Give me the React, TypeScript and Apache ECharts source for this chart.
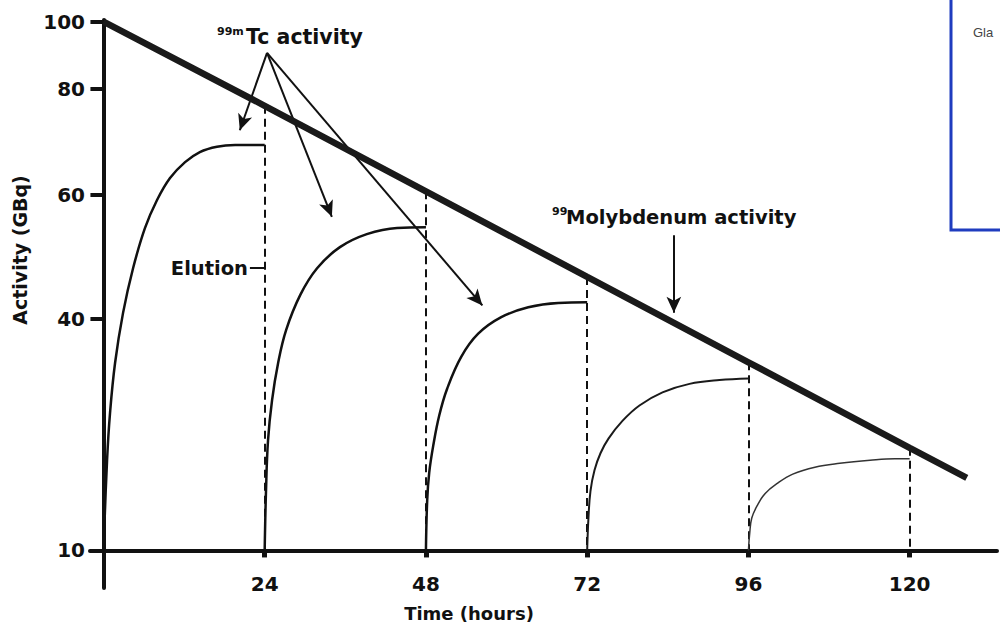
import React, { useEffect, useRef } from "react";
import * as echarts from "echarts";

// Activity axis: labelled ticks (GBq) and where each sits on the schematic scale (0..100)
const TICK_GBQ = [10, 40, 60, 80, 100];
const TICK_POS = [0, 43.75, 67.2, 87.3, 100];

// Elution times (hours)
const ELUTION_HOURS = [24, 48, 72, 96, 120];

// 99Mo parent activity
const MO_HOURS = [0, 24, 48, 72, 96, 120, 128.5];
const MO_GBQ = [100, 76.8, 60.7, 46.8, 34.4, 23.3, 19.4];

// 99mTc in-growth after each elution
const TC1_HOURS = [0, 0.54, 0.98, 1.73, 2.92, 4.41, 6.19, 7.98, 9.91, 12.15, 14.35, 16.9, 19.6, 24];
const TC1_GBQ = [10, 21.7, 27.8, 34.3, 41.0, 48.2, 54.7, 59.2, 63.2, 66.2, 68.1, 69.1, 69.4, 69.4];
const TC2_HOURS = [24, 24.2, 24.5, 25.1, 26.0, 27.2, 29.3, 31.8, 35.2, 39.2, 43.7, 48];
const TC2_GBQ = [10, 17.8, 24.3, 29.5, 34.3, 38.6, 43.9, 48.2, 51.6, 53.7, 54.7, 54.8];
const TC3_HOURS = [48, 48.19, 48.49, 49.09, 49.98, 51.17, 53.25, 55.78, 59.21, 63.23, 67.69, 72];
const TC3_GBQ = [10, 16.5, 20.1, 23.6, 27.5, 31.0, 35.1, 38.1, 40.3, 41.9, 42.6, 42.7];
const TC4_HOURS = [72, 72.19, 72.49, 73.09, 73.98, 75.17, 77.25, 79.78, 83.21, 87.23, 91.69, 96];
const TC4_GBQ = [10, 14.2, 17.7, 20.4, 22.6, 24.5, 26.8, 28.8, 30.5, 31.6, 32.1, 32.3];
const TC5_HOURS = [96, 96.2, 96.5, 97.3, 98.5, 100.3, 102.6, 105.9, 109.6, 114.1, 117.8, 120];
const TC5_GBQ = [10, 12.3, 14.2, 15.8, 17.4, 18.7, 19.9, 20.8, 21.3, 21.7, 21.9, 21.9];

// Callout arrows (hours, GBq)
const TC_CALLOUT_FROM = [24.35, 90.7];
const TC_CALLOUT_TO = [
  [20.3, 72.2],
  [34.0, 56.5],
  [56.4, 42.2],
];
const MO_CALLOUT = [[84.9, 53.5], [84.9, 41.0]];
const ELUTION_TICK = [[21.8, 48.2], [24, 48.2]];

const FONT = '"DejaVu Sans", "Liberation Sans", Arial, sans-serif';
const INK = "#111";

// piecewise-linear placement of an activity on the schematic scale
function toPos(g: number): number {
  for (let i = 0; i < TICK_GBQ.length - 1; i++) {
    const a = TICK_GBQ[i];
    const b = TICK_GBQ[i + 1];
    if (g <= b || i === TICK_GBQ.length - 2) {
      return TICK_POS[i] + ((g - a) / (b - a)) * (TICK_POS[i + 1] - TICK_POS[i]);
    }
  }
  return 0;
}

function labelFor(pos: number): string {
  let best = 0;
  for (let i = 1; i < TICK_POS.length; i++) {
    if (Math.abs(TICK_POS[i] - pos) < Math.abs(TICK_POS[best] - pos)) best = i;
  }
  return String(TICK_GBQ[best]);
}

const pts = (hs: number[], gs: number[]) => hs.map((h, i) => [h, toPos(gs[i])]);
const pt = (p: number[]) => [p[0], toPos(p[1])];

function tcSeries(name: string, hs: number[], gs: number[], width: number, color: string, extra: any = {}) {
  return {
    name,
    type: "line",
    data: pts(hs, gs),
    smooth: 0.4,
    showSymbol: false,
    symbol: "none",
    silent: true,
    lineStyle: { color, width, join: "round" },
    z: 3,
    ...extra,
  };
}

export default function App() {
  const ref = useRef<HTMLDivElement>(null);

  useEffect(() => {
    if (!ref.current) return;
    const chart = echarts.init(ref.current, null, { renderer: "svg" });

    const dashed = ELUTION_HOURS.map((h) => {
      const g = MO_GBQ[MO_HOURS.indexOf(h)];
      return [{ coord: [h, toPos(g)] }, { coord: [h, 0] }];
    });

    const arrowHead = { symbol: "arrow", symbolSize: [11, 16] };
    const arrows: any[] = TC_CALLOUT_TO.map((to) => [
      { coord: pt(TC_CALLOUT_FROM), symbol: "none" },
      { coord: pt(to), ...arrowHead },
    ]);
    arrows.push([
      { coord: pt(MO_CALLOUT[0]), symbol: "none" },
      { coord: pt(MO_CALLOUT[1]), ...arrowHead },
    ]);
    arrows.push([
      { coord: pt(ELUTION_TICK[0]), symbol: "none" },
      { coord: pt(ELUTION_TICK[1]), symbol: "none" },
    ]);

    chart.setOption({
      animation: false,
      backgroundColor: "#ffffff",
      grid: { left: 90, right: 3, top: 20, bottom: 46 },
      xAxis: {
        type: "value",
        min: -2,
        max: 133,
        axisLine: { show: true, onZero: true, lineStyle: { color: INK, width: 4 } },
        axisTick: { show: true, customValues: ELUTION_HOURS, length: 7, lineStyle: { color: INK, width: 5 } },
        axisLabel: {
          show: true,
          customValues: ELUTION_HOURS,
          margin: -14,
          color: INK,
          fontFamily: FONT,
          fontWeight: "bold",
          fontSize: 20,
        },
        splitLine: { show: false },
      },
      yAxis: {
        type: "value",
        min: -7.1,
        max: 100.3,
        axisLine: { show: true, onZero: true, lineStyle: { color: INK, width: 4 } },
        axisTick: { show: true, customValues: TICK_POS, length: 13, lineStyle: { color: INK, width: 4 } },
        axisLabel: {
          show: true,
          customValues: TICK_POS,
          formatter: (v: number) => labelFor(v),
          margin: 5,
          color: INK,
          fontFamily: FONT,
          fontWeight: "bold",
          fontSize: 20,
        },
        splitLine: { show: false },
      },
      series: [
        {
          name: "99Mo",
          type: "line",
          data: pts(MO_HOURS, MO_GBQ),
          showSymbol: false,
          symbol: "none",
          silent: true,
          lineStyle: { color: "#1a1a1a", width: 6.5, cap: "butt" },
          z: 5,
          markLine: {
            silent: true,
            symbol: "none",
            label: { show: false },
            lineStyle: { color: INK, width: 2, type: [8, 5] },
            data: dashed,
            z: 2,
          },
        },
        tcSeries("99mTc 1", TC1_HOURS, TC1_GBQ, 2.5, INK, {
          markLine: {
            silent: true,
            label: { show: false },
            lineStyle: { color: INK, width: 2, type: "solid" },
            data: arrows,
          },
        }),
        tcSeries("99mTc 2", TC2_HOURS, TC2_GBQ, 2.5, INK),
        tcSeries("99mTc 3", TC3_HOURS, TC3_GBQ, 2.5, INK),
        tcSeries("99mTc 4", TC4_HOURS, TC4_GBQ, 2, "#1a1a1a"),
        tcSeries("99mTc 5", TC5_HOURS, TC5_GBQ, 1.5, "#333"),
      ],
      graphic: [
        {
          type: "text",
          x: 20,
          y: 250,
          rotation: Math.PI / 2,
          style: { text: "Activity (GBq)", font: `bold 19px ${FONT}`, fill: INK, align: "center", verticalAlign: "middle" },
        },
        {
          type: "text",
          x: 469,
          y: 613,
          style: { text: "Time (hours)", font: `bold 18px ${FONT}`, fill: INK, align: "center", verticalAlign: "middle" },
        },
        {
          type: "text",
          x: 217,
          y: 31,
          style: { text: "99m", font: `bold 11px ${FONT}`, fill: INK, align: "left", verticalAlign: "middle" },
        },
        {
          type: "text",
          x: 246,
          y: 37,
          style: { text: "Tc activity", font: `bold 20.5px ${FONT}`, fill: INK, align: "left", verticalAlign: "middle" },
        },
        {
          type: "text",
          x: 552,
          y: 211,
          style: { text: "99", font: `bold 11px ${FONT}`, fill: INK, align: "left", verticalAlign: "middle" },
        },
        {
          type: "text",
          x: 566,
          y: 217,
          style: { text: "Molybdenum activity", font: `bold 19.5px ${FONT}`, fill: INK, align: "left", verticalAlign: "middle" },
        },
        {
          type: "text",
          x: 248,
          y: 268,
          style: { text: "Elution", font: `bold 19.5px ${FONT}`, fill: INK, align: "right", verticalAlign: "middle" },
        },
        {
          type: "rect",
          shape: { x: 951, y: -4, width: 60, height: 234 },
          style: { fill: "#ffffff", stroke: "#1f3cbf", lineWidth: 3 },
          z: 10,
        },
        {
          type: "text",
          x: 973,
          y: 32,
          style: { text: "Gla", font: '13px "Liberation Sans", Arial, sans-serif', fill: "#444", align: "left", verticalAlign: "middle" },
          z: 11,
        },
      ],
    });

    return () => chart.dispose();
  }, []);

  return (
    <div
      ref={ref}
      style={{ position: "fixed", left: 0, top: 0, width: 1000, height: 634, background: "#fff" }}
    />
  );
}
